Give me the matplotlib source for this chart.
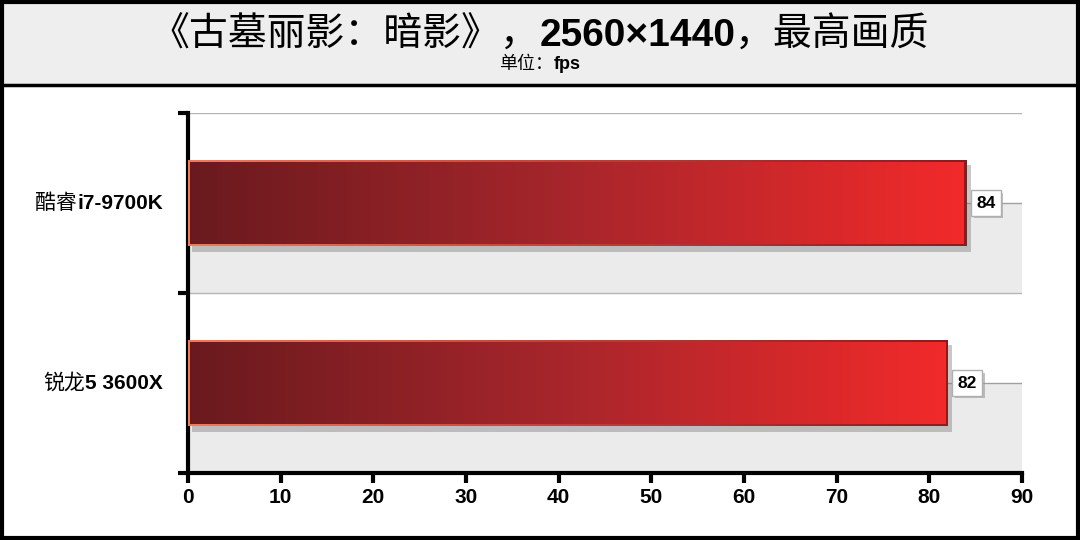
import numpy as np
import matplotlib.pyplot as plt
import matplotlib.patheffects as pe
from matplotlib.patches import Rectangle
from matplotlib.offsetbox import TextArea, HPacker, AnnotationBbox
from matplotlib.colors import LinearSegmentedColormap

plt.rcParams['font.family'] = ['Liberation Sans', 'Noto Sans CJK SC', 'DejaVu Sans']

# data
cpu_cn = ['酷睿', '锐龙']
cpu_en = ['i7-9700K', '5 3600X']
fps = [84, 82]
x_ticks = [0, 10, 20, 30, 40, 50, 60, 70, 80, 90]

fig = plt.figure(figsize=(10.8, 5.4), dpi=100)

# header box + outer frame
fig.patches.append(Rectangle((0, 1 - 85 / 540), 1, 85 / 540, transform=fig.transFigure,
                             facecolor='#eeeeee', edgecolor='black', lw=2.5, zorder=0))
fig.patches.append(Rectangle((0.002, 0.003), 0.996, 0.994, transform=fig.transFigure,
                             facecolor='none', edgecolor='black', lw=3, zorder=5))

title_parts = [
    TextArea('《古墓丽影：暗影》，', textprops=dict(size=28, family=['Noto Sans CJK SC'])),
    TextArea('2560×1440', textprops=dict(size=28, weight='bold', family=['Liberation Sans'])),
    TextArea('，最高画质', textprops=dict(size=28, family=['Noto Sans CJK SC'])),
]
title_box = HPacker(children=title_parts, pad=0, sep=0, align='baseline')
fig.add_artist(AnnotationBbox(title_box, (0.5, 1 - 35 / 540), xycoords='figure fraction',
                              frameon=False, box_alignment=(0.5, 0.5)))
sub_parts = [
    TextArea('单位：', textprops=dict(size=13, family=['Noto Sans CJK SC'])),
    TextArea('fps', textprops=dict(size=13, weight='bold', family=['Liberation Sans'])),
]
sub_box = HPacker(children=sub_parts, pad=0, sep=0, align='baseline')
fig.add_artist(AnnotationBbox(sub_box, (0.5, 1 - 64 / 540), xycoords='figure fraction',
                              frameon=False, box_alignment=(0.5, 0.5)))

ax = fig.add_axes([188 / 1080, 67 / 540, 834 / 1080, 360 / 540])
y = np.arange(len(fps))
ax.set_xlim(0, 90)
ax.set_ylim(len(fps) - 0.5, -0.5)

# background bands: lower half of each category is gray
for yi in y:
    ax.axhspan(yi, yi + 0.5, color='#ebebeb', zorder=0, lw=0)
for b in np.arange(len(fps) + 1) - 0.5:
    ax.axhline(b, color='#b5b5b5', lw=1, zorder=0.5)

face_cmap = LinearSegmentedColormap.from_list('face', ['#6a1a1e', '#a8262c', '#f22a2a'])
edge_cmap = LinearSegmentedColormap.from_list('edge', ['#f07a5c', '#c0403a', '#8a1c1f'])
bar_h = 0.48
dx, dy = 0.25, 0.014
grad = np.linspace(0, 1, 256).reshape(1, -1)
outer = ax.barh(y, fps, height=bar_h, facecolor='#c02428', edgecolor='none', zorder=3)
inner = ax.barh(y, np.array(fps) - 2 * dx, left=dx, height=bar_h - 2 * dy,
                facecolor='none', edgecolor='none', zorder=3)
for ob, ib, v, yi in zip(outer, inner, fps, y):
    ob.set_path_effects([pe.SimplePatchShadow(offset=(3, -4), shadow_rgbFace='#777777', alpha=0.4),
                         pe.Normal()])
    im = ax.imshow(grad, cmap=edge_cmap, aspect='auto',
                   extent=(0, v, yi + bar_h / 2, yi - bar_h / 2), zorder=3.4)
    im.set_clip_path(ob)
    im2 = ax.imshow(grad, cmap=face_cmap, aspect='auto',
                    extent=(dx, v - dx, yi + bar_h / 2, yi - bar_h / 2), zorder=3.5)
    im2.set_clip_path(ib)
    # connector line
    ax.plot([v, 90], [yi, yi], color='#a0a0a0', lw=1, zorder=2)
    t = ax.annotate(str(v), (v, yi), xytext=(7, 0), textcoords='offset points',
                    ha='left', va='center', size=12.5, weight='bold', zorder=6,
                    bbox=dict(boxstyle='square,pad=0.3', fc='white', ec='#b0b0b0', lw=1))
    t.get_bbox_patch().set_path_effects([pe.SimplePatchShadow(offset=(2, -2), shadow_rgbFace='#999999', alpha=0.6),
                                         pe.Normal()])

# category labels: chinese regular + latin bold
for cn, en, yi in zip(cpu_cn, cpu_en, y):
    parts = [TextArea(cn, textprops=dict(size=15, family=['Noto Sans CJK SC'])),
             TextArea(en, textprops=dict(size=15, weight='bold', family=['Liberation Sans']))]
    box = HPacker(children=parts, pad=0, sep=0, align='baseline')
    ax.add_artist(AnnotationBbox(box, (0, yi), xybox=(-18, 0), xycoords=('axes fraction', 'data'),
                                 boxcoords='offset points', frameon=False, box_alignment=(1, 0.5),
                                 annotation_clip=False))

ax.set_yticks(np.arange(len(fps) + 1) - 0.5)
ax.set_yticklabels([])
ax.set_xticks(x_ticks)
ax.set_xticklabels([str(v) for v in x_ticks], size=15, weight='bold')
ax.tick_params(axis='both', direction='out', length=7, width=3, color='black')
ax.tick_params(axis='x', pad=4)
for s in ['top', 'right']:
    ax.spines[s].set_visible(False)
for s in ['left', 'bottom']:
    ax.spines[s].set_linewidth(3)
ax.set_facecolor('white')

fig.savefig('out.png', dpi=100)
